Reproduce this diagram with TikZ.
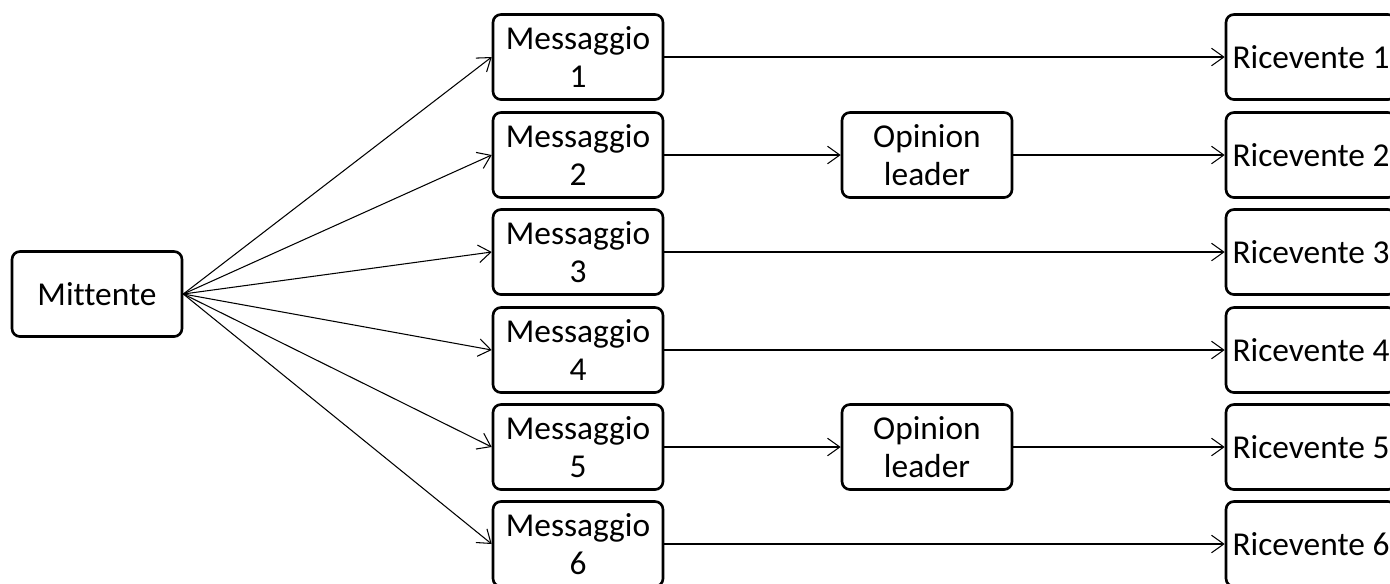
\documentclass[tikz,border=0pt]{standalone}
\usepackage{fontspec}
\setmainfont{Carlito}[Ligatures=NoCommon]
\usetikzlibrary{arrows.meta}

\begin{document}
\begin{tikzpicture}[
  x=0.02cm, y=-0.02cm,
  >={Straight Barb[length=7pt,width=10pt]},
  every node/.style={draw, line width=1.5pt, rounded corners=4.5pt,
    minimum width=3.4cm, minimum height=1.7cm, align=center,
    inner sep=0pt, font=\fontsize{19}{21.5}\selectfont},
  link/.style={->, line width=0.6pt}]
\clip (0,0) rectangle (1390,583);
\node (mitt) at (97,294) {Mittente};
\foreach \i/\y in {1/57,2/155,3/252,4/350,5/447,6/544} {
  \node (msg\i) at (578,\y) {Messaggio\\\i};
  \node (ric\i) at (1311,\y) {Ricevente \i};
  \draw[link] (mitt.east) -- (msg\i.west);
}
\node (opl2) at (927,155) {Opinion\\leader};
\node (opl5) at (927,447) {Opinion\\leader};
% direct to the receiver
\foreach \i in {1,3,4,6}
  \draw[link] (msg\i.east) -- (ric\i.west);
% through the opinion leader
\foreach \i in {2,5} {
  \draw[link] (msg\i.east) -- (opl\i.west);
  \draw[link] (opl\i.east) -- (ric\i.west);
}
\end{tikzpicture}
\end{document}
